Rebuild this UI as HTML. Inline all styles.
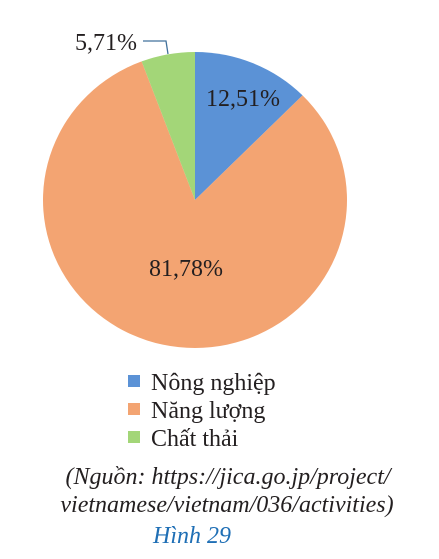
<!DOCTYPE html>
<html><head><meta charset="utf-8"><style>
body{margin:0;background:#fff;width:439px;height:559px;overflow:hidden}
svg{display:block}
text{font-family:"Liberation Serif",serif;fill:#231f20}
</style></head><body>
<svg width="439" height="559">
<g id="pie"></g>
<text x="75" y="50" font-size="24">5,71%</text>
<polyline points="143,41 166,41 168,54" fill="none" stroke="#41719c" stroke-width="1.3"/>
<text x="206" y="106" font-size="24">12,51%</text>
<text x="149" y="276" font-size="24">81,78%</text>
<g>
<rect x="128" y="375" width="12" height="12" fill="#5b92d6"/>
<text x="151" y="390" font-size="24">Nông nghiệp</text>
<rect x="128" y="403" width="12" height="12" fill="#f3a472"/>
<text x="151" y="418" font-size="24">Năng lượng</text>
<rect x="128" y="431" width="12" height="12" fill="#a3d678"/>
<text x="151" y="446" font-size="24">Chất thải</text>
</g>
<text x="228" y="484" font-size="24" font-style="italic" text-anchor="middle">(Nguồn: https://jica.go.jp/project/</text>
<text x="227" y="512" font-size="24" font-style="italic" text-anchor="middle">vietnamese/vietnam/036/activities)</text>
<text x="192" y="543" font-size="24" font-style="italic" text-anchor="middle" style="fill:#1f6fb5">Hình 29</text>
</svg>
<script>
const categories=["Nông nghiệp","Năng lượng","Chất thải"];
const values=[12.51,81.78,5.71];
const colors=["#5b92d6","#f3a472","#a3d678"];
const cx=195,cy=200,rx=152,ry=148;
const g=document.getElementById('pie');
const total=values.reduce((a,b)=>a+b,0);
let a0=-Math.PI/2;
values.forEach((v,i)=>{
  const a1=a0+v/total*2*Math.PI;
  const x0=cx+rx*Math.cos(a0),y0=cy+ry*Math.sin(a0),x1=cx+rx*Math.cos(a1),y1=cy+ry*Math.sin(a1);
  const p=document.createElementNS('http://www.w3.org/2000/svg','path');
  p.setAttribute('d',`M${cx},${cy}L${x0},${y0}A${rx},${ry} 0 ${a1-a0>Math.PI?1:0} 1 ${x1},${y1}Z`);
  p.setAttribute('fill',colors[i]);
  
  
  g.appendChild(p);
  a0=a1;
});
</script>
</body></html>
